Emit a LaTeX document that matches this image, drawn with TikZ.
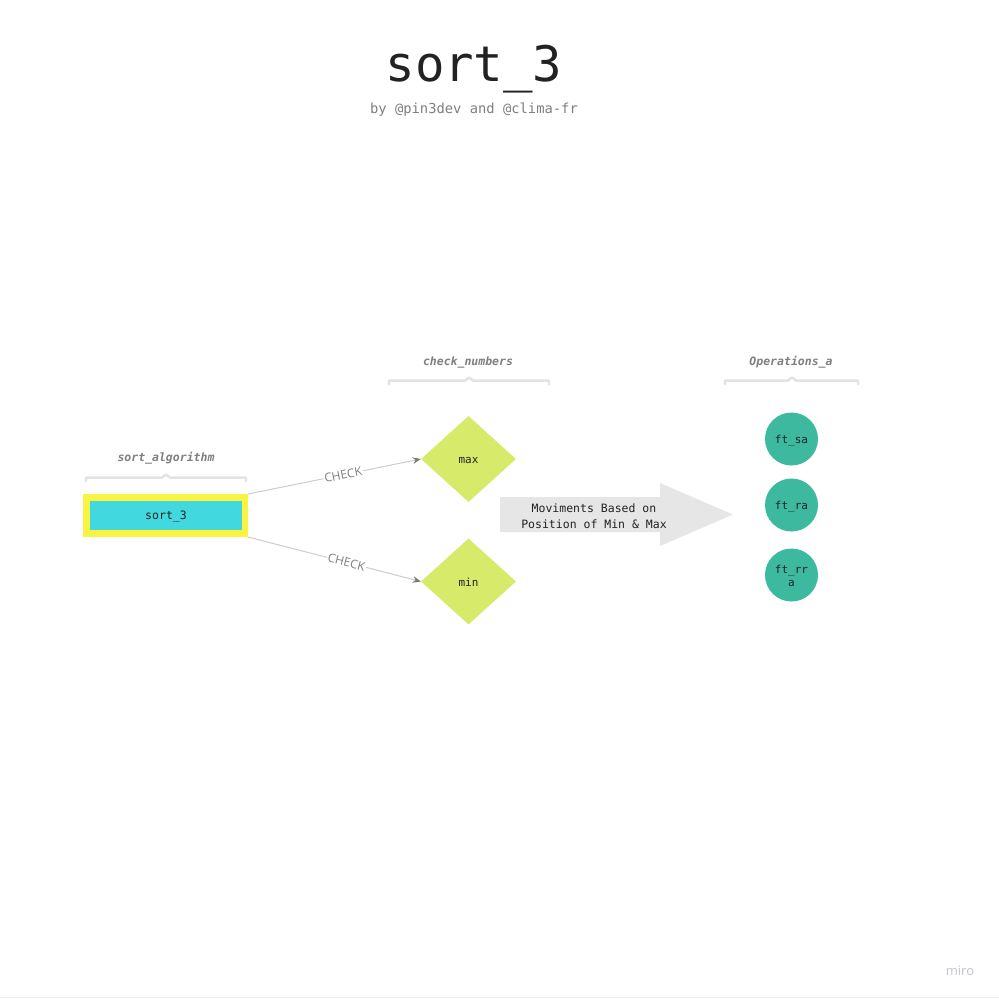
\documentclass[tikz,border=0pt]{standalone}
\usepackage{fontspec}
\setmainfont{Open Sans}
\setmonofont{DejaVu Sans Mono}
\usetikzlibrary{arrows.meta,shapes.geometric}
\definecolor{txtgray}{HTML}{7F7F7F}
\definecolor{brgray}{HTML}{E3E3E3}
\definecolor{lineg}{HTML}{CCCCCC}
\definecolor{tipg}{HTML}{7A7A7A}
\definecolor{yel}{HTML}{FBF341}
\definecolor{cyanbox}{HTML}{42D8DF}
\definecolor{lime}{HTML}{D7EA6A}
\definecolor{teal}{HTML}{3DB9A0}
\definecolor{arrowg}{HTML}{E6E6E6}
\definecolor{dark}{HTML}{222222}
\definecolor{mirog}{HTML}{C4C4D2}
\tikzset{
  hdr/.style={font=\ttfamily\bfseries\itshape\fontsize{11.5}{13}\selectfont, text=txtgray},
  brk/.style={draw=brgray, line width=2.5pt, line cap=round, line join=round},
  dia/.style={diamond, fill=lime, minimum width=95pt, minimum height=86pt, inner sep=0pt, aspect=1.1,
     font=\ttfamily\fontsize{11}{13}\selectfont, text=dark},
  circ/.style={circle, fill=teal, minimum size=53pt, inner sep=0pt, align=center,
     font=\ttfamily\fontsize{11}{13}\selectfont, text=dark},
  conn/.style={draw=lineg, line width=1pt, -{Stealth[length=8pt,width=6.5pt,color=tipg]}},
  lbl/.style={font=\fontsize{12}{14}\selectfont, text=txtgray, fill=white, inner sep=1pt, sloped},
}
\begin{document}
\begin{tikzpicture}[x=1pt,y=-1pt]
\useasboundingbox (0,0) rectangle (999,999);
\fill[white] (0,0) rectangle (999,999);
\draw[draw=gray!15, line width=0.6pt] (0,997) -- (999,997);

% title
\node[font=\ttfamily\fontsize{49}{54}\selectfont, text=dark] (title) at (474,69) {sort\_3};
\node[font=\ttfamily\fontsize{13.8}{16}\selectfont, text=txtgray] (sub) at (474,110) {by @pin3dev and @clima-fr};

% headers
\node[hdr] (h1) at (166,458) {sort\_algorithm};
\node[hdr] (h2) at (468,362) {check\_numbers};
\node[hdr] (h3) at (791,362) {Operations\_a};

% brackets
\draw[brk] (86,481) -- (86,479) .. controls (86,477.5) .. (88,477.5) -- (162,477.5) -- (166,474.5) -- (170,477.5) -- (244,477.5) .. controls (246,477.5) .. (246,479) -- (246,481);
\draw[brk] (389,384) -- (389,382) .. controls (389,380.5) .. (391,380.5) -- (465,380.5) -- (469,377.5) -- (473,380.5) -- (547,380.5) .. controls (549,380.5) .. (549,382) -- (549,384);
\draw[brk] (725,384) -- (725,382) .. controls (725,380.5) .. (727,380.5) -- (788,380.5) -- (792,377.5) -- (796,380.5) -- (856,380.5) .. controls (858,380.5) .. (858,382) -- (858,384);

% sort_3 box
\node[fill=yel, minimum width=165pt, minimum height=43pt, inner sep=0pt] (outer) at (165.5,515.5) {};
\node[fill=cyanbox, minimum width=152pt, minimum height=29pt, inner sep=0pt] (s3) at (166,515.5) {};
\node[font=\ttfamily\fontsize{11.5}{13}\selectfont, text=dark] (s3t) at (166,517) {sort\_3};

% diamonds
\node[dia] (max) at (468.5,459) {};
\node[dia] (min) at (468.5,581.5) {};
\node[font=\ttfamily\fontsize{11}{13}\selectfont, text=dark] (maxt) at (468.5,460.5) {max};
\node[font=\ttfamily\fontsize{11}{13}\selectfont, text=dark] (mint) at (468.5,582.5) {min};

% connectors
\coordinate (o1) at (248,494);
\coordinate (o2) at (248,537);
\draw[conn] (o1) -- (max.west) node[lbl, pos=0.55] {CHECK};
\draw[conn] (o2) -- (min.west) node[lbl, pos=0.57] {CHECK};

% big arrow
\fill[arrowg] (500,497) -- (660,497) -- (660,483) -- (733,514.5) -- (660,546) -- (660,532) -- (500,532) -- cycle;
\node[align=center, font=\ttfamily\fontsize{11.5}{16}\selectfont, text=dark] (mv) at (594,516) {Moviments Based on\\Position of Min \& Max};

% circles
\node[circ] (c1) at (791.5,439) {};
\node[circ] (c2) at (791.5,505) {};
\node[circ] (c3) at (791.5,575) {};
\node[font=\ttfamily\fontsize{11}{13}\selectfont, text=dark] (c1t) at (791.5,440.5) {ft\_sa};
\node[font=\ttfamily\fontsize{11}{13}\selectfont, text=dark] (c2t) at (791.5,506.5) {ft\_ra};
\node[align=center, font=\ttfamily\fontsize{11}{13}\selectfont, text=dark] (c3t) at (791.5,576) {ft\_rr\\a};

% watermark
\node[font=\fontsize{13}{15}\selectfont, text=mirog] (miro) at (960,971) {miro};
\end{tikzpicture}
\end{document}
